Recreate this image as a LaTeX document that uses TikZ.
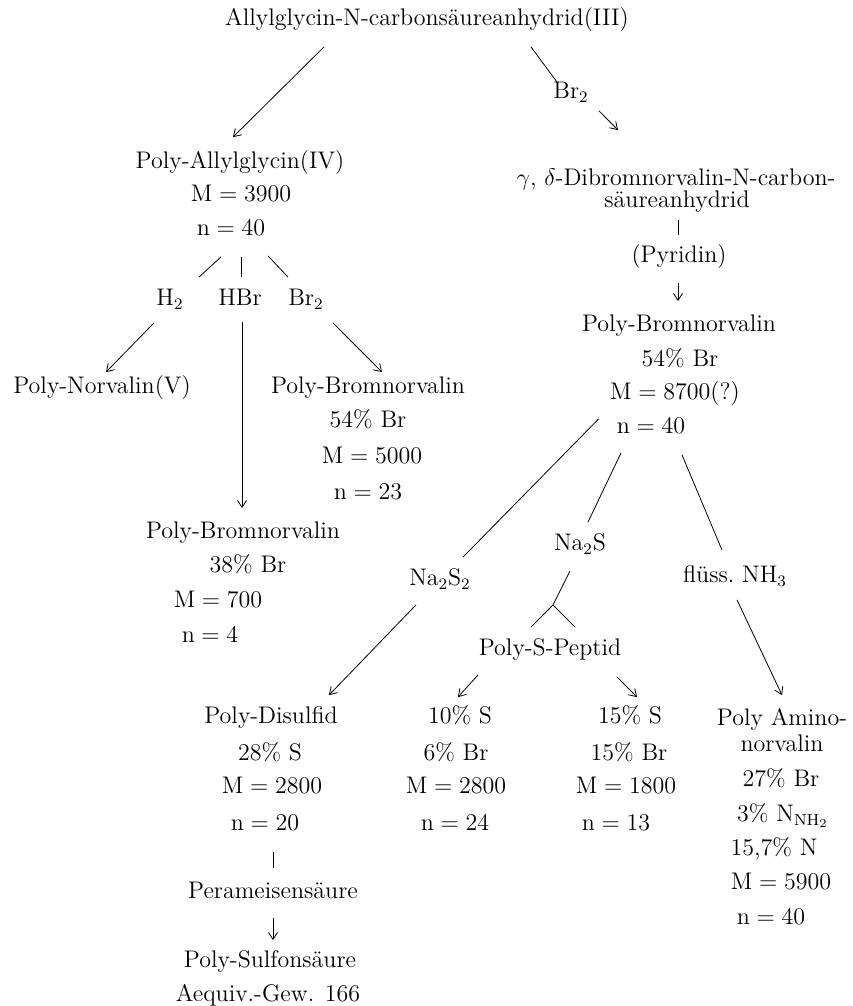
\documentclass[tikz,border=0pt]{standalone}
\usepackage{amsmath}
\usetikzlibrary{arrows.meta}

\begin{document}
\begin{tikzpicture}[x=0.5pt, y=-0.5pt,
    line width=0.4pt,
    every node/.style={font=\fontsize{12}{14}\selectfont, inner sep=0pt,
        text height=8pt, text depth=2.5pt},
    arr/.style={-{Straight Barb[length=3.5pt,width=4.5pt]}}]
    \useasboundingbox (0,0) rectangle (852,1006);

    \node (III) at (427,20) {Allylglycin-N-carbonsäureanhydrid(III)};
    \node (br) at (571,93) {Br$_2$};
    \node (d1) at (676,180) {$\gamma$, $\delta$-Dibromnorvalin-N-carbon-};
    \node (d2) at (677,202) {säureanhydrid};
    \node (py) at (679,257) {(Pyridin)};
    \node (r1) at (679,326) {Poly-Bromnorvalin};
    \node (r2) at (680,361) {54\% Br};
    \node (r3) at (675,394) {$\mathrm{M}=8700$(?)};
    \node (r4) at (651,428) {$\mathrm{n}=40$};

    \node (IV) at (240,163) {Poly-Allylglycin(IV)};
    \node (l2) at (241,196) {$\mathrm{M}=3900$};
    \node (l3) at (231,230) {$\mathrm{n}=40$};
    \node (h) at (170,300) {H$_2$};
    \node (hb) at (240,300) {HBr};
    \node (bb) at (306,300) {Br$_2$};
    \node (V) at (102,388) {Poly-Norvalin(V)};
    \node (a1) at (368,388) {Poly-Bromnorvalin};
    \node (a2) at (368,422) {54\% Br};
    \node (a3) at (372,458) {$\mathrm{M}=5000$};
    \node (a4) at (368,494) {$\mathrm{n}=23$};
    \node (b1) at (243,533) {Poly-Bromnorvalin};
    \node (b2) at (248,567) {38\% Br};
    \node (b3) at (218,602) {$\mathrm{M}=700$};
    \node (b4) at (210,637) {$\mathrm{n}=4$};

    \node (s2) at (440,580) {Na$_2$S$_2$};
    \node (s1) at (580,545) {Na$_2$S};
    \node (nh) at (735,577) {flüss.\ NH$_3$};
    \coordinate (fk) at (553,605);
    \node (pp) at (550,650) {Poly-S-Peptid};

    \node (c1) at (271,718) {Poly-Disulfid};
    \node (c2) at (270,755) {28\% S};
    \node (c3) at (272,788) {$\mathrm{M}=2800$};
    \node (c4) at (265,825) {$\mathrm{n}=20$};
    \node (pa) at (273,893) {Perameisensäure};
    \node (su) at (270,962) {Poly-Sulfonsäure};
    \node (ae) at (268,996) {Aequiv.-Gew. 166};
    \node (e1) at (460,718) {10\% S};
    \node (e2) at (456,755) {6\% Br};
    \node (e3) at (456,788) {$\mathrm{M}=2800$};
    \node (e4) at (455,825) {$\mathrm{n}=24$};
    \node (f1) at (630,718) {15\% S};
    \node (f2) at (629,755) {15\% Br};
    \node (f3) at (626,788) {$\mathrm{M}=1800$};
    \node (f4) at (616,825) {$\mathrm{n}=13$};
    \node (g1) at (782,720) {Poly Amino-};
    \node (g2) at (782,746) {norvalin};
    \node (g3) at (781,781) {27\% Br};
    \node (g4) at (783,816) {3\% N$_{\mathrm{NH}_2}$};
    \node (g5) at (774,850) {15,7\% N};
    \node (g6) at (781,884) {$\mathrm{M}=5900$};
    \node (g7) at (771,919) {$\mathrm{n}=40$};

    \draw[arr] ([shift={(-103,16)}]III.south) -- ([shift={(-7,-15)}]IV.north);
    \draw ([shift={(104,16)}]III.south) -- ([shift={(-14,0)}]br.north);
    \draw[arr] ([shift={(28,7)}]br.south) -- ([shift={(-58,-39)}]d1.north);
    \draw ([shift={(1,7)}]d2.south) -- ([shift={(-1,-11)}]py.north);
    \draw[arr] ([shift={(-1,15)}]py.south) -- ([shift={(-1,-14)}]r1.north);
    \draw ([shift={(-18,-9)}]r4.west) -- ([shift={(23,-12)}]s2.north);
    \draw ([shift={(-30,14)}]r4.south) -- ([shift={(8,-12)}]s1.north);
    \draw ([shift={(31,16)}]r4.south) -- ([shift={(-13,-16)}]nh.north);
    \draw ([shift={(-10,15)}]s1.south) -- (fk);
    \draw (fk) -- ([shift={(-19,-12)}]pp.north);
    \draw (fk) -- ([shift={(25,-12)}]pp.north);
    \draw[arr] ([shift={(-24,14)}]s2.south) -- ([shift={(58,-12)}]c1.north);
    \draw[arr] ([shift={(-72,14)}]pp.south) -- ([shift={(-2,-10)}]e1.north);
    \draw[arr] ([shift={(67,16)}]pp.south) -- ([shift={(7,-10)}]f1.north);
    \draw[arr] ([shift={(2,12)}]nh.south) -- ([shift={(0,-14)}]g1.north);
    \draw ([shift={(8,16)}]c4.south) -- ([shift={(0,-14)}]pa.north);
    \draw[arr] ([shift={(0,14)}]pa.south) -- ([shift={(3,-11)}]su.north);

    \draw ([shift={(-10,16)}]l3.south) -- ([shift={(29,-12)}]h.north);
    \draw ([shift={(10,16)}]l3.south) -- ([shift={(1,-12)}]hb.north);
    \draw ([shift={(37,15)}]l3.south) -- ([shift={(-18,-12)}]bb.north);
    \draw[arr] ([shift={(-16,12)}]h.south) -- ([shift={(4,-5)}]V.north);
    \draw[arr] ([shift={(2,11)}]hb.south) -- ([shift={(-1,-14)}]b1.north);
    \draw[arr] ([shift={(27,12)}]bb.south) -- ([shift={(14,-5)}]a1.north);
\end{tikzpicture}
\end{document}
